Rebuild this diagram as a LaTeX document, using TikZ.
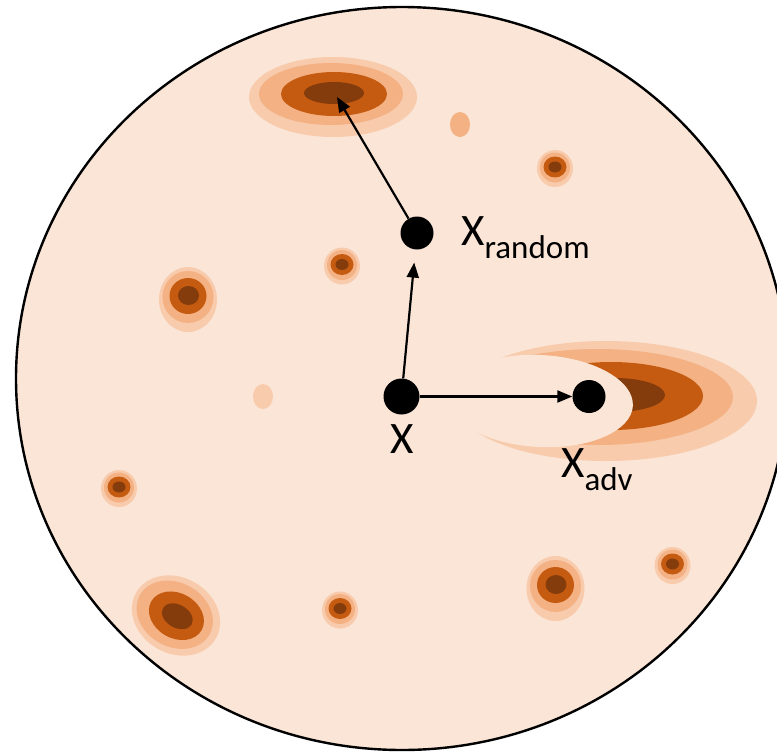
\documentclass[tikz,border=0pt]{standalone}
\usepackage{fontspec}
\setmainfont{Carlito}
\usetikzlibrary{arrows.meta}
\definecolor{bgc}{HTML}{FBE5D6}
\definecolor{ca}{HTML}{F8CBAD}
\definecolor{cb}{HTML}{F4B183}
\definecolor{cc}{HTML}{C55A11}
\definecolor{cd}{HTML}{843C0C}
\tikzset{
  dot/.style={circle, fill=black, inner sep=0pt, minimum size=33pt},
  bigdot/.style={dot, minimum size=36pt},
  lab/.style={inner sep=0pt, font=\fontsize{45}{45}\selectfont},
  arr/.style={line width=2.2pt, -{Triangle[length=15pt,width=12pt]}},
  smallblob/.pic={
    \fill[ca] (0,1.5) ellipse[x radius=18pt, y radius=18.5pt];
    \fill[cb] (0,0.5) ellipse[x radius=15pt, y radius=15pt];
    \fill[cc] (0,0) ellipse[x radius=11.5pt, y radius=10.5pt];
    \fill[cd] (0,0) ellipse[x radius=6.5pt, y radius=5.5pt];
  },
  midblob/.pic={
    \fill[ca] (0,3.5) ellipse[x radius=29pt, y radius=32.5pt];
    \fill[cb] (0,1) ellipse[x radius=25.5pt, y radius=26pt];
    \fill[cc] (0,0) ellipse[x radius=18.5pt, y radius=18pt];
    \fill[cd] (0.5,-0.5) ellipse[x radius=10.5pt, y radius=9.5pt];
  }
}
\newcommand{\subtxt}[1]{\raisebox{-13pt}{\fontsize{33}{33}\selectfont #1}}
\begin{document}
\begin{tikzpicture}[x=1pt,y=-1pt]
\useasboundingbox (0,0) rectangle (777,753);
% main disc
\fill[bgc] (402,378.5) ellipse[x radius=386pt, y radius=371.5pt];
% top blob
\fill[ca] (333,97) ellipse[x radius=84pt, y radius=40pt];
\fill[cb] (331,94) ellipse[x radius=72pt, y radius=31pt];
\fill[cc] (334,94) ellipse[x radius=53pt, y radius=22pt];
\fill[cd] (334,93) ellipse[x radius=30pt, y radius=11pt];
% single light ellipses
\fill[cb] (460,124.5) ellipse[x radius=10pt, y radius=12.5pt];
\fill[ca] (263,396.5) ellipse[x radius=10pt, y radius=12.5pt];
% small blobs
\pic at (555,167) {smallblob};
\pic at (342,264.5) {smallblob};
\pic at (119,487) {smallblob};
\pic at (340,608.5) {smallblob};
\pic at (672.5,564) {smallblob};
% medium blobs
\pic at (188,296) {midblob};
\pic at (555.5,585) {midblob};
% tilted blob
\begin{scope}[shift={(176,615.5)}, rotate=-30]
\fill[ca] (0,0) ellipse[x radius=46pt, y radius=38pt];
\fill[cb] (-1.5,0) ellipse[x radius=40pt, y radius=32pt];
\fill[cc] (0.5,0) ellipse[x radius=29pt, y radius=22.5pt];
\fill[cd] (1.5,0) ellipse[x radius=16.5pt, y radius=11.5pt];
\end{scope}
% crescent blob
\fill[ca] (606,401) ellipse[x radius=151pt, y radius=60pt];
\fill[cb] (598,397) ellipse[x radius=135pt, y radius=48pt];
\fill[cc] (611,396) ellipse[x radius=92pt, y radius=34pt];
\fill[cd] (615,395) ellipse[x radius=50pt, y radius=17pt];
\begin{scope}[shift={(540,401)}, rotate=-3]
\fill[bgc] (0,0) ellipse[x radius=93pt, y radius=46pt];
\end{scope}
% outline
\draw[line width=2.4pt] (402,378.5) ellipse[x radius=386pt, y radius=371.5pt];
% points
\node[bigdot] (x) at (401.5,396.5) {};
\node[dot] (xr) at (417,233) {};
\node[dot] (xa) at (589,396.5) {};
\coordinate (topc) at (337,97);
% labels
\node[lab, anchor=base] (lx) at (402,453) {X};
\node[lab, anchor=base west] (lxr) at (461,245) {X\subtxt{random}};
\node[lab, anchor=base west] (lxa) at (561,477) {X\subtxt{adv}};
% arrows
\draw[arr, shorten >=13pt] (x) -- (xr);
\draw[arr] (x) -- (xa);
\draw[arr] (xr) -- (topc);
\end{tikzpicture}
\end{document}
